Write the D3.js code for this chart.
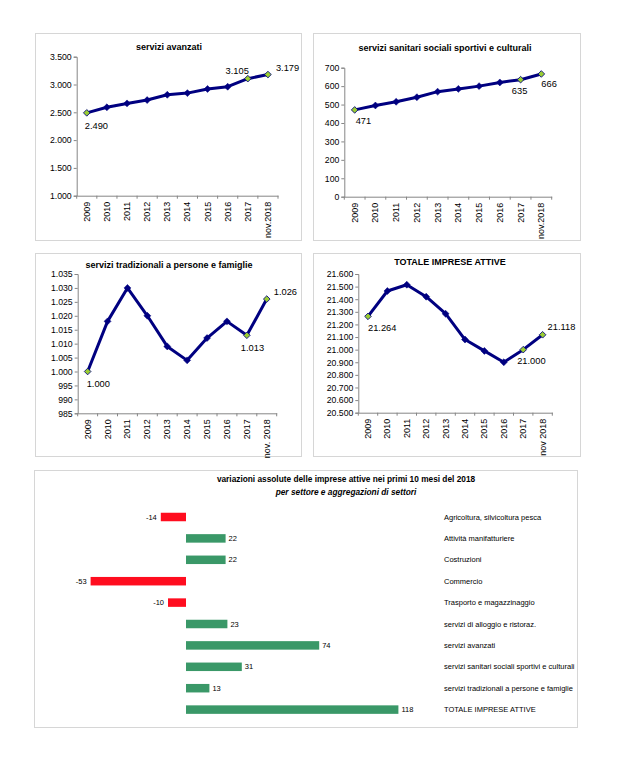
<!DOCTYPE html>
<html>
<head>
<meta charset="utf-8">
<script src="https://cdn.jsdelivr.net/npm/d3@7"></script>
<style>
  body { margin: 0; background: #fff; }
  text { font-family: "Liberation Sans", Arial, sans-serif; fill: #000; }
</style>
</head>
<body>
<div id="chart"></div>
<script>
// dati
var anni = ["2009", "2010", "2011", "2012", "2013", "2014", "2015", "2016", "2017", "nov.2018"];
var anniTrad = ["2009", "2010", "2011", "2012", "2013", "2014", "2015", "2016", "2017", "nov. 2018"];
var anniTot = ["2009", "2010", "2011", "2012", "2013", "2014", "2015", "2016", "2017", "nov 2018"];

var serviziAvanzati = [2490, 2590, 2660, 2720, 2815, 2845, 2920, 2960, 3105, 3179];
var serviziSanitari = [471, 495, 515, 540, 570, 585, 600, 620, 635, 666];
var serviziTradizionali = [1000, 1018, 1030, 1020, 1009, 1004, 1012, 1018, 1013, 1026];
var totaleImprese = [21264, 21465, 21515, 21420, 21285, 21080, 20990, 20900, 21000, 21118];

var settori = ["Agricoltura, silvicoltura pesca", "Attività manifatturiere", "Costruzioni", "Commercio",
  "Trasporto e magazzinaggio", "servizi di alloggio e ristoraz.", "servizi avanzati",
  "servizi sanitari sociali sportivi e culturali", "servizi tradizionali a persone e famiglie",
  "TOTALE IMPRESE ATTIVE"];
var variazioni = [-14, 22, 22, -53, -10, 23, 74, 31, 13, 118];

var it = d3.formatLocale({decimal: ",", thousands: ".", grouping: [3], currency: ["€", ""]});
var fmt = it.format(",");

var navy = "#000080", verde = "#9acd32", grigio = "#868686", bordo = "#d6d6d6";

var svg = d3.select("#chart").append("svg")
    .attr("width", 618)
    .attr("height", 766);

svg.append("rect").attr("width", 618).attr("height", 766).attr("fill", "#fff");

// pannelli con le linee
var panels = [
  {title: "servizi avanzati", cats: anni, vals: serviziAvanzati, dom: [1000, 3500], step: 500,
   box: [35, 33, 301, 240], x0: 76.7, x1: 278, y0: 56.7, y1: 195.7, tx: 169, ty: 50,
   labels: [{i: 0, dx: -2, dy: 16, a: "start"}, {i: 8, dx: 1, dy: -5, a: "end"}, {i: 9, dx: 8, dy: -4, a: "start"}]},
  {title: "servizi sanitari sociali sportivi e culturali", cats: anni, vals: serviziSanitari, dom: [0, 700], step: 100,
   box: [313, 33, 580, 240], x0: 344.3, x1: 551.7, y0: 67.7, y1: 196.7, tx: 445, ty: 51,
   labels: [{i: 0, dx: 1, dy: 14, a: "start"}, {i: 8, dx: -1, dy: 14, a: "middle"}, {i: 9, dx: 0, dy: 13, a: "start"}]},
  {title: "servizi tradizionali a persone e famiglie", cats: anniTrad, vals: serviziTradizionali, dom: [985, 1035], step: 5,
   box: [35, 253, 301, 456], x0: 77.7, x1: 276.7, y0: 274, y1: 413.3, tx: 169, ty: 268,
   labels: [{i: 0, dx: -1, dy: 15, a: "start"}, {i: 8, dx: -6, dy: 16, a: "start"}, {i: 9, dx: 7, dy: -4, a: "start"}]},
  {title: "TOTALE IMPRESE ATTIVE", cats: anniTot, vals: totaleImprese, dom: [20500, 21600], step: 100,
   box: [313, 253, 580, 456], x0: 358.3, x1: 552.3, y0: 274, y1: 412.7, tx: 450, ty: 265,
   labels: [{i: 0, dx: 0, dy: 15, a: "start"}, {i: 8, dx: -6, dy: 14, a: "start"}, {i: 9, dx: 5, dy: -5, a: "start"}]}
];

panels.forEach(function(p) {
  var g = svg.append("g");

  g.append("rect")
      .attr("x", p.box[0] + 0.5).attr("y", p.box[1] + 0.5)
      .attr("width", p.box[2] - p.box[0]).attr("height", p.box[3] - p.box[1])
      .attr("fill", "none").attr("stroke", bordo);

  g.append("text")
      .attr("x", p.tx).attr("y", p.ty)
      .attr("text-anchor", "middle")
      .style("font-size", "9px").style("font-weight", "bold")
      .text(p.title);

  var x = d3.scaleBand().domain(p.cats).range([p.x0, p.x1]);
  var y = d3.scaleLinear().domain(p.dom).range([p.y1, p.y0]);

  // asse y
  var yAxis = g.append("g")
      .attr("transform", "translate(" + p.x0 + ",0)")
      .call(d3.axisLeft(y)
        .tickValues(d3.range(p.dom[0], p.dom[1] + p.step / 2, p.step))
        .tickFormat(fmt).tickSize(3).tickPadding(2));
  yAxis.select(".domain").attr("stroke", grigio);
  yAxis.selectAll("line").attr("stroke", grigio);
  yAxis.selectAll("text").style("font-size", "8.7px").attr("fill", "#000");

  // asse x
  var xAxis = g.append("g")
      .attr("transform", "translate(0," + p.y1 + ")")
      .call(d3.axisBottom(x).tickSize(0));
  xAxis.select(".domain").attr("stroke", grigio);
  xAxis.selectAll("text")
      .style("font-size", "9px").attr("fill", "#000")
      .attr("transform", "rotate(-90)")
      .attr("text-anchor", "end")
      .attr("x", -6).attr("y", 0).attr("dy", "0.33em");

  var bordi = p.cats.map(function(c) { return x(c); }).concat([p.x1]);
  g.selectAll(".tk").data(bordi).enter().append("line")
      .attr("x1", function(d) { return d; }).attr("x2", function(d) { return d; })
      .attr("y1", p.y1).attr("y2", p.y1 + 3)
      .attr("stroke", grigio);

  var cx = function(i) { return x(p.cats[i]) + x.bandwidth() / 2; };

  var line = d3.line()
      .x(function(d, i) { return cx(i); })
      .y(function(d) { return y(d); });

  g.append("path")
      .datum(p.vals)
      .attr("fill", "none")
      .attr("stroke", navy)
      .attr("stroke-width", 3)
      .attr("stroke-linejoin", "round")
      .attr("d", line);

  var hi = p.labels.map(function(l) { return l.i; });
  var diamond = d3.symbol(d3.symbolSquare);

  g.selectAll(".mk").data(p.vals).enter().append("path")
      .attr("transform", function(d, i) { return "translate(" + cx(i) + "," + y(d) + ") rotate(45)"; })
      .attr("d", function(d, i) { return diamond.size(hi.indexOf(i) >= 0 ? 22 : 24)(); })
      .attr("fill", function(d, i) { return hi.indexOf(i) >= 0 ? verde : navy; })
      .attr("stroke", navy)
      .attr("stroke-width", function(d, i) { return hi.indexOf(i) >= 0 ? 0.8 : 0.5; });

  p.labels.forEach(function(l) {
    g.append("text")
        .attr("x", cx(l.i) + l.dx)
        .attr("y", y(p.vals[l.i]) + l.dy)
        .attr("text-anchor", l.a)
        .style("font-size", "9.3px")
        .text(fmt(p.vals[l.i]));
  });
});

// grafico a barre delle variazioni
var gb = svg.append("g");

gb.append("rect")
    .attr("x", 34.5).attr("y", 470.5)
    .attr("width", 543).attr("height", 257)
    .attr("fill", "none").attr("stroke", bordo);

gb.append("text")
    .attr("x", 346).attr("y", 482)
    .attr("text-anchor", "middle")
    .style("font-size", "8.3px").style("font-weight", "bold")
    .text("variazioni assolute delle imprese attive nei primi 10 mesi del 2018");

gb.append("text")
    .attr("x", 346).attr("y", 495)
    .attr("text-anchor", "middle")
    .style("font-size", "8.3px").style("font-weight", "bold").style("font-style", "italic")
    .text("per settore e aggregazioni di settori");

var xb = d3.scaleLinear().domain([-53, 118]).range([90.6, 398.4]);
var yb = d3.scaleBand().domain(settori).range([506.3, 720.3]);
var hBar = 8.5;

gb.selectAll(".bar").data(variazioni).enter().append("rect")
    .attr("x", function(d) { return Math.min(xb(0), xb(d)); })
    .attr("y", function(d, i) { return yb(settori[i]) + yb.bandwidth() / 2 - hBar / 2; })
    .attr("width", function(d) { return Math.abs(xb(d) - xb(0)); })
    .attr("height", hBar)
    .attr("fill", function(d) { return d < 0 ? "#ff0d1f" : "#3a9868"; });

gb.selectAll(".val").data(variazioni).enter().append("text")
    .attr("x", function(d) { return d < 0 ? xb(d) - 4 : xb(d) + 3; })
    .attr("y", function(d, i) { return yb(settori[i]) + yb.bandwidth() / 2; })
    .attr("dy", "0.35em")
    .attr("text-anchor", function(d) { return d < 0 ? "end" : "start"; })
    .style("font-size", "7.5px")
    .text(function(d) { return d; });

gb.selectAll(".cat").data(settori).enter().append("text")
    .attr("x", 444)
    .attr("y", function(d) { return yb(d) + yb.bandwidth() / 2; })
    .attr("dy", "0.35em")
    .style("font-size", "7.5px")
    .text(function(d) { return d; });
</script>
</body>
</html>
